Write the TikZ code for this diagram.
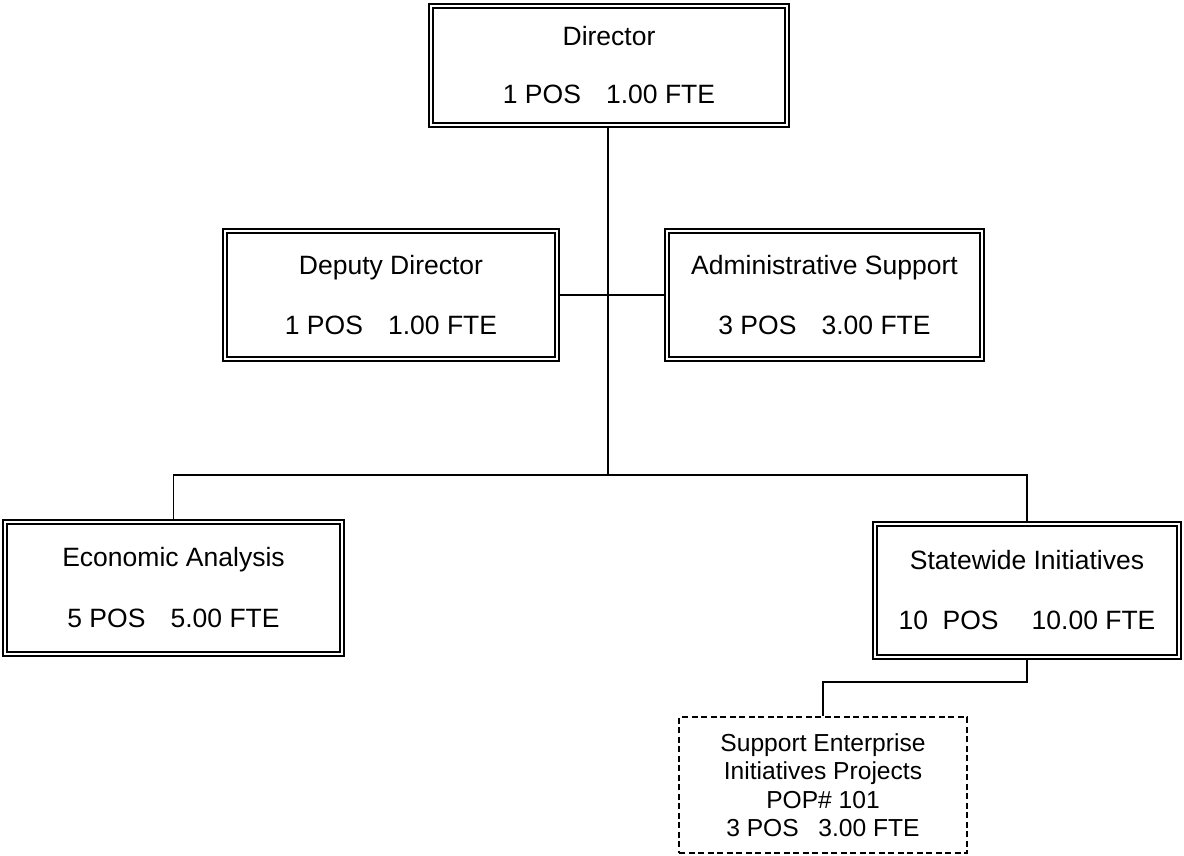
\documentclass[tikz,border=0pt]{standalone}
\usepackage{fontspec}
\setmainfont{Liberation Sans}
\begin{document}
\begin{tikzpicture}[x=1pt,y=-1pt,
  unit/.style={draw=black, double=white, line width=1.3pt, double distance=2.6pt,
    align=center, inner sep=0pt, font=\fontsize{26.5}{60}\selectfont},
  project/.style={draw=black, dash pattern=on 6pt off 3.5pt, line width=1.2pt,
    align=center, inner sep=0pt, font=\fontsize{24.6}{28.5}\selectfont},
  link/.style={draw=black, line width=1.5pt}]
\useasboundingbox (0,0) rectangle (1184,855);

% organisational units
\node[unit, minimum width=356pt, minimum height=119pt, font=\fontsize{26.5}{58}\selectfont]
  (dir) at (609,65.5) {Director\\1 POS\hspace{0.95em}1.00 FTE};
\node[unit, minimum width=332pt, minimum height=128pt]
  (dep) at (391,295) {Deputy Director\\1 POS\hspace{0.95em}1.00 FTE};
\node[unit, minimum width=315pt, minimum height=128pt]
  (adm) at (824.5,295) {Administrative Support\\3 POS\hspace{0.95em}3.00 FTE};
\node[unit, minimum width=337pt, minimum height=132pt, font=\fontsize{26.5}{61}\selectfont]
  (eco) at (173.5,588) {Economic Analysis\\5 POS\hspace{0.95em}5.00 FTE};
\node[unit, minimum width=304pt, minimum height=133pt]
  (sta) at (1027,590.5) {Statewide Initiatives\\10\hspace{0.55em}POS\hspace{1.25em}10.00 FTE};
\node[project, minimum width=288pt, minimum height=136pt]
  (sup) at (823,785) {Support Enterprise\\Initiatives Projects\\POP\# 101\\3 POS\hspace{0.8em}3.00 FTE};

% junction points of the connectors
\coordinate (bus) at (608,475);
\coordinate (drop) at (1028,682);

% connectors
\draw[link] (dir.south -| bus) -- (bus);
\draw[link] (dep.east) -- (adm.west);
\draw[link] (eco.north) -- (eco.north |- bus) -- (sta.north |- bus) -- (sta.north);
\draw[link] (sta.south) -- (sta.south |- drop) -- (sup.north |- drop) -- (sup.north);
\end{tikzpicture}
\end{document}
